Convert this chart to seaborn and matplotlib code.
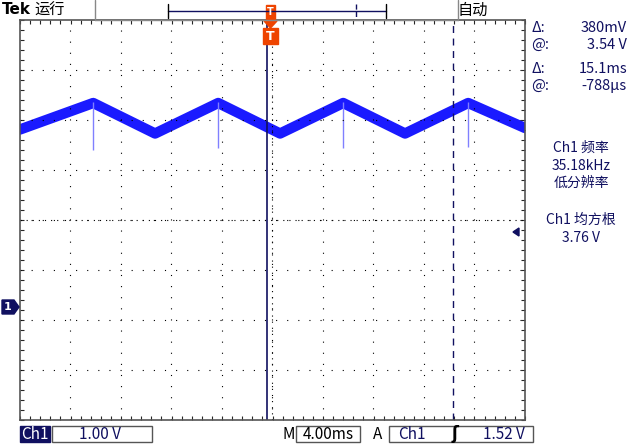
import numpy as np
import matplotlib
matplotlib.use("Agg")
import matplotlib.pyplot as plt
from matplotlib.patches import Rectangle, Polygon
import seaborn as sns

sns.set_style("white")
plt.rcParams['font.family'] = ['Noto Sans CJK SC', 'DejaVu Sans']

# waveform vertices (ms, V), 4 ms/div, 1 V/div
t_ms = [-20.0, -14.2, -9.3, -4.3, 0.6, 5.6, 10.5, 15.5, 20.0]
volts = [3.55, 4.08, 3.47, 4.08, 3.47, 4.08, 3.47, 4.08, 3.58]
spike_t = [-14.2, -4.3, 5.6, 15.5]
spike_low = [3.14, 3.18, 3.18, 3.20]
NAVY = "#101060"
BLUE = "#1a1aff"

fig = plt.figure(figsize=(6.43, 4.44), dpi=100)
W, H = 643, 444
ax = fig.add_axes([20 / W, 24 / H, 505 / W, 400 / H])
ax.set_xlim(-20, 20)
ax.set_ylim(-2.26, 5.74)

sns.lineplot(x=t_ms, y=volts, ax=ax, color=BLUE, lw=7.5)
ax.vlines(spike_t, spike_low, [4.1] * len(spike_t), color="#8080ff", lw=1)

# graticule: dotted major lines, ticked centre axes
for x in np.arange(-16, 20, 4):
    ax.axvline(x, color="k", lw=0.8, ls=(0, (1, 9)))
for y in np.arange(-1.26, 5.74, 1.0):
    ax.axhline(y, color="k", lw=0.8, ls=(0, (1, 9)))
ax.axhline(1.74, color="k", lw=0.8, ls=(0, (1, 4.5)))
ax.axvline(0, color="k", lw=0.8, ls=(0, (1, 4.5)))
ax.set_xticks(np.arange(-20, 20.1, 0.8))
ax.set_yticks(np.arange(-2.26, 5.75, 0.2))
ax.tick_params(direction="in", length=3, width=0.8, labelleft=False, labelbottom=False,
               top=True, right=True, left=True, bottom=True)
for s in ax.spines.values():
    s.set_color("#555555")
    s.set_linewidth(1.2)
ax.set_xlabel("")
ax.set_ylabel("")

# cursors
ax.axvline(-0.4, color=NAVY, lw=1.2)
ax.axvline(14.3, color=NAVY, lw=1, ls=(0, (5, 4)))

def T(x, y, s, **kw):
    kw.setdefault("color", NAVY)
    kw.setdefault("fontsize", 10)
    fig.text(x / W, 1 - y / H, s, va="center", **kw)

# header
T(2, 10, "Tek", color="k", fontsize=11, weight="bold", family="DejaVu Sans")
T(34, 10, "运行", color="k", fontsize=11)
T(458, 10, "自动", color="k", fontsize=11)
fig.add_artist(plt.Line2D([95 / W, 95 / W], [1, 1 - 20 / H], color="#888", lw=1))
fig.add_artist(plt.Line2D([95 / W, 458 / W], [1 - 20 / H] * 2, color="#888", lw=1))
fig.add_artist(plt.Line2D([458 / W, 458 / W], [1, 1 - 20 / H], color="#888", lw=1))
fig.add_artist(plt.Line2D([168 / W, 386 / W], [1 - 11 / H] * 2, color=NAVY, lw=1))
for xb in (168, 386):
    fig.add_artist(plt.Line2D([xb / W] * 2, [1 - 4 / H, 1 - 18 / H], color="k", lw=1))
fig.add_artist(plt.Line2D([356 / W] * 2, [1 - 4 / H, 1 - 18 / H], color=NAVY, lw=1, ls="--"))
fig.add_artist(Rectangle((266 / W, 1 - 19 / H), 9 / W, 14 / H, color="#ee4400"))
T(270.5, 12, "T", color="white", fontsize=7, ha="center", weight="bold", family="DejaVu Sans")
fig.add_artist(Polygon([(264 / W, 1 - 21 / H), (277 / W, 1 - 21 / H), (270.5 / W, 1 - 28 / H)], color="#ee4400"))
fig.add_artist(Rectangle((263 / W, 1 - 44 / H), 15 / W, 16 / H, color="#ee4400"))
T(270.5, 36, "T", color="white", fontsize=9, ha="center", weight="bold", family="DejaVu Sans")

# right readouts
T(531, 28, "Δ:", fontsize=10.5)
T(627, 28, "380mV", fontsize=10.5, ha="right")
T(531, 45, "@:", fontsize=10.5)
T(627, 45, "3.54 V", fontsize=10.5, ha="right")
T(531, 69, "Δ:", fontsize=10.5)
T(627, 69, "15.1ms", fontsize=10.5, ha="right")
T(531, 86, "@:", fontsize=10.5)
T(627, 86, "-788µs", fontsize=10.5, ha="right")
T(581, 148, "Ch1 频率", ha="center")
T(581, 166, "35.18kHz", ha="center")
T(581, 183, "低分辨率", ha="center")
T(581, 220, "Ch1 均方根", ha="center")
T(581, 238, "3.76 V", ha="center")
fig.add_artist(Polygon([(513 / W, 1 - 232 / H), (519 / W, 1 - 228 / H), (519 / W, 1 - 236 / H)], color=NAVY))

# ground marker
fig.add_artist(Polygon([(2 / W, 1 - 300 / H), (14 / W, 1 - 300 / H), (19 / W, 1 - 307 / H),
                        (14 / W, 1 - 314 / H), (2 / W, 1 - 314 / H)], color=NAVY))
T(8, 307, "1", color="white", fontsize=8, ha="center", weight="bold", family="DejaVu Sans")

# footer
fig.add_artist(Rectangle((20 / W, 1 - 442 / H), 30 / W, 16 / H, color=NAVY))
T(35, 434, "Ch1", color="white", fontsize=11, ha="center")
fig.add_artist(Rectangle((52 / W, 1 - 442 / H), 100 / W, 16 / H, fill=False, ec="#555", lw=1))
T(100, 434, "1.00 V", fontsize=11, ha="center")
T(283, 434, "M", color="k", fontsize=11)
fig.add_artist(Rectangle((296 / W, 1 - 442 / H), 64 / W, 16 / H, fill=False, ec="#555", lw=1))
T(328, 434, "4.00ms", color="k", fontsize=11, ha="center")
T(373, 434, "A", color="k", fontsize=11)
fig.add_artist(Rectangle((389 / W, 1 - 442 / H), 144 / W, 16 / H, fill=False, ec="#555", lw=1))
T(398, 434, "Ch1", fontsize=11)
T(452, 434, "ʃ", color="k", fontsize=12, weight="bold")
T(525, 434, "1.52 V", fontsize=11, ha="right")

fig.savefig("out.png", dpi=100)
